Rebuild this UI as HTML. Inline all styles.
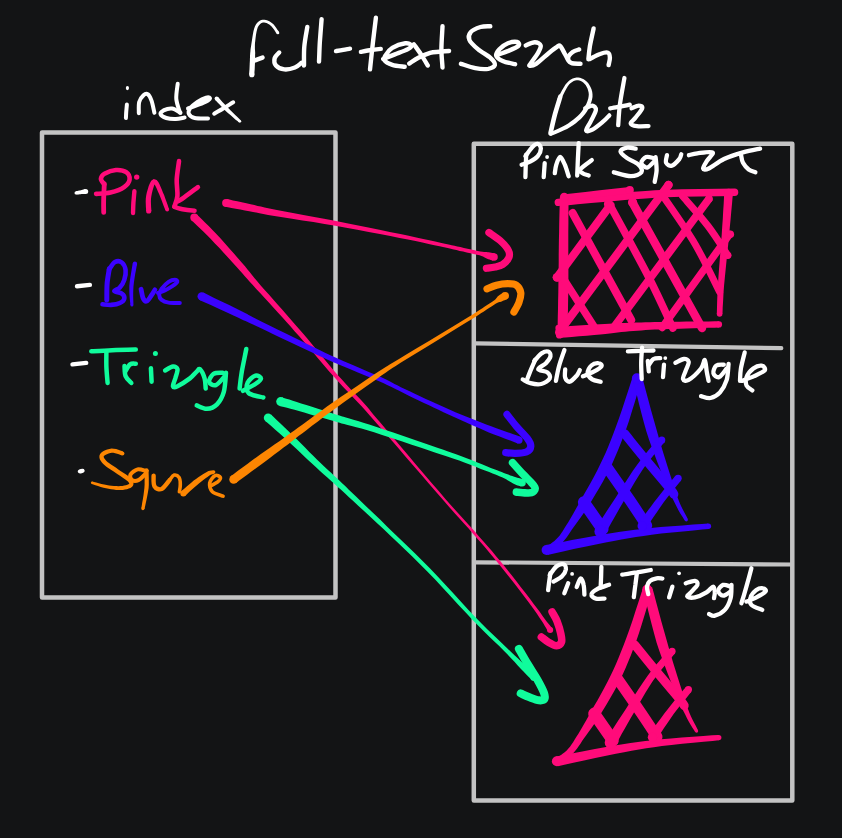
<!DOCTYPE html>
<html><head><meta charset="utf-8"><title>full-text search</title>
<style>
html,body{margin:0;padding:0;background:#131415;}
body{width:842px;height:838px;overflow:hidden;font-family:"Liberation Sans",sans-serif;}
svg{display:block}
svg path{fill:none;stroke-linecap:round;stroke-linejoin:round}
</style></head><body>
<svg width="842" height="838" viewBox="0 0 842 838">
<rect x="0" y="0" width="842" height="838" fill="#131415"/>
<path d="M42 132.4H335.5V597.5H42Z" stroke="#c3c3c3" stroke-width="4.5"/>
<path d="M473.8 143.7H792.3V800.4H473.8Z" stroke="#c3c3c3" stroke-width="4.5"/>
<path d="M475.8 343.3L781.3 348.2" stroke="#c3c3c3" stroke-width="4.2"/>
<path d="M475.8 562.3L792 564.5" stroke="#c3c3c3" stroke-width="4.2"/>
<path d="M225.3 206.8L227.9 207.3L231.5 208L235.7 208.8L240.3 209.6L244.9 210.5L249.3 211.3L253 212L256.2 212.6L259.5 213.3L263.3 214L268.1 214.9L274.4 215.9L282.5 217.2L292 218.7L302.4 220.4L313.4 222.1L324.5 223.9L335.3 225.7L346.1 227.7L357.3 229.8L368.7 231.9L379.8 234L390.3 236.1L399.6 237.9L407.9 239.6L415.5 241.1L422.4 242.6L428.7 243.9L434.4 245.2L439.6 246.3L444.1 247.3L447.7 248.1L450.8 248.8L453.7 249.5L456.5 250.1L459.6 250.9L463.1 251.6L466.7 252.4L470.3 253.2L473.8 254L476.9 254.7L479.6 255.3L481.5 256L483 256.6L484.2 257.2L485.1 257.7L486.1 258.3L487.1 258.8L488.3 259.2L489.5 259.5L490.6 259.9L491.6 260.2L492.5 260.5L493.1 260.7L494.9 253.3L494.3 253.2L493.4 253.1L492.4 252.9L491.2 252.7L490 252.4L488.9 252.2L487.8 252.2L486.7 252.1L485.6 252.1L484.2 251.9L482.6 251.8L480.4 251.5L477.8 250.9L474.6 250.2L471.2 249.5L467.5 248.7L463.9 247.9L460.4 247.1L457.3 246.5L454.5 245.8L451.7 245.2L448.6 244.5L444.9 243.7L440.4 242.7L435.2 241.5L429.4 240.3L423.2 238.9L416.3 237.4L408.7 235.8L400.4 234.1L391 232.2L380.6 230L369.6 227.7L358.2 225.4L346.9 223.2L336.1 221.1L325.4 219L314.3 216.9L303.4 214.9L292.9 213L283.5 211.2L275.6 209.7L269.4 208.4L264.6 207.4L260.9 206.6L257.6 205.9L254.4 205.1L250.7 204.3L246.4 203.3L241.8 202.3L237.3 201.3L233 200.4L229.5 199.6L226.9 199Z" style="fill:#ff0b7a;stroke:none"/>
<circle cx="226.1" cy="202.9" r="4" fill="#ff0b7a" stroke="none"/>
<circle cx="494" cy="257" r="3.8" fill="#ff0b7a" stroke="none"/>
<path d="M488.9 232.5C490.8 233.9 497 237.8 500.2 240.7C503.4 243.6 506.9 247.3 508.3 250.1C509.8 252.9 509.8 255.2 508.9 257.6C508 260 505 262.9 502.7 264.5C500.4 266.1 497.8 266.4 495.1 267C492.4 267.6 487.8 268.1 486.4 268.3" stroke="#ff0b7a" stroke-width="7.2"/>
<path d="M191.6 220.3L193.6 222.3L196.4 224.9L199.6 228L203.3 231.5L207.1 235.2L210.8 239.1L214.9 243.4L219.4 248.1L224.1 253.2L228.7 258.3L233 263L236.9 267.2L240 270.7L242.5 273.6L244.8 276.2L247.1 278.8L249.7 281.7L252.8 285.1L256.5 289.2L260.6 293.6L264.9 298.2L269.3 303.1L273.8 307.9L278.1 312.7L282.3 317.3L286.5 322L290.6 326.6L294.8 331.4L299.2 336.3L303.7 341.5L308.5 347.1L313.6 353.1L318.8 359.2L324.1 365.4L329.2 371.4L334.2 377L339.1 382.5L344.1 387.9L349.1 393L353.7 397.9L358 402.4L361.6 406.3L364.3 409.3L366.3 411.4L367.8 413.2L369.3 414.9L371.1 417.1L373.7 420.1L377 423.7L380.5 427.7L384.3 432.1L388.6 437L393.5 442.5L398.9 448.8L405.4 456.4L413 465.2L421.1 474.6L429.2 484.1L437 493L443.8 500.8L449.6 507.4L454.7 513.2L459.5 518.5L464 523.4L468.4 528.3L472.8 533.4L477.2 538.4L481.5 543.3L485.6 548.1L489.7 552.9L493.9 558L498.4 563.4L503.2 569.4L508.4 575.9L513.6 582.6L518.8 589.2L523.5 595.4L527.7 600.9L531.2 605.7L534.3 610.1L537.1 614.1L539.5 617.7L541.6 620.8L543.4 623.6L544.8 625.9L545.9 627.7L546.6 629.1L547.1 630.1L547.4 631L547.7 631.8L552.7 628.4L552.1 627.9L551.4 627.2L550.6 626.3L549.6 625.1L548.3 623.5L546.6 621.4L544.6 618.7L542.4 615.7L539.9 612.1L537 608.2L533.7 603.9L530.1 599.1L525.9 593.6L521.1 587.4L516 580.8L510.7 574.1L505.5 567.6L500.6 561.6L496.1 556.2L491.9 551.1L487.7 546.3L483.5 541.5L479.2 536.7L474.8 531.6L470.3 526.6L465.9 521.7L461.4 516.8L456.6 511.5L451.4 505.7L445.6 499.2L438.9 491.3L431.2 482.4L423.1 472.9L415 463.4L407.5 454.6L401.1 447L395.6 440.6L390.8 435L386.6 430.1L382.8 425.6L379.4 421.6L376.3 417.9L373.7 414.9L371.9 412.7L370.5 410.9L369 409.1L367.1 406.8L364.4 403.7L360.8 399.8L356.5 395.3L351.9 390.4L347 385.2L342.1 379.8L337.2 374.4L332.3 368.7L327.3 362.7L322.2 356.4L317 350.2L312 344.2L307.3 338.5L302.8 333.2L298.4 328.2L294.2 323.4L290.1 318.7L286 314L281.9 309.3L277.6 304.5L273.2 299.5L268.9 294.6L264.7 289.9L260.7 285.4L257.2 281.3L254.2 277.8L251.8 274.8L249.7 272.1L247.5 269.4L245 266.3L241.9 262.8L238.2 258.4L233.9 253.6L229.4 248.4L224.8 243.2L220.4 238.3L216.4 233.9L212.5 229.9L208.7 226L205 222.4L201.8 219.3L199 216.6L197 214.7Z" style="fill:#ff0b7a;stroke:none"/>
<circle cx="194.3" cy="217.5" r="4" fill="#ff0b7a" stroke="none"/>
<circle cx="550.2" cy="630.1" r="3" fill="#ff0b7a" stroke="none"/>
<path d="M552.1 611.9C552.9 613.5 555.7 617.6 557.1 621.3C558.5 624.9 560.1 630.3 560.8 633.8C561.5 637.2 562.2 640 561.5 642C560.8 644 558.6 645.6 556.5 645.7C554.4 645.8 551.4 644.1 548.9 642.6C546.4 641.1 542.6 637.9 541.4 637" stroke="#ff0b7a" stroke-width="7.6"/>
<path d="M199.9 300.2L204.4 302.2L210.8 305.1L218.2 308.5L225.9 312L232.9 315.3L238.4 317.8L241.9 319.4L244 320.4L245.5 321L247.1 321.8L249.6 322.9L253.6 324.8L259.5 327.6L266.8 331.1L274.9 335L283.3 339L291.4 342.8L298.8 346.3L305.2 349.3L311.1 352L316.7 354.7L322.3 357.3L328.2 359.9L334.6 362.7L341.8 365.8L349.7 369.1L357.9 372.4L365.8 375.7L373 378.7L379.1 381.3L383.7 383.3L387.1 384.9L389.9 386.3L392.5 387.6L395.4 389.1L399.1 390.8L403.5 393L408.3 395.4L413.4 397.9L418.7 400.4L423.9 402.9L429 405.3L434 407.7L439 410L444 412.4L449 414.7L454 417L459 419.2L464 421.5L469 423.7L474 426L478.9 428.1L483.9 430.3L488.8 432.4L494 434.4L499.6 436.6L505.2 438.7L510.3 440.6L514.6 442.3L517.8 443.5L520.2 436.7L517.1 435.6L512.7 434.1L507.6 432.2L502 430.2L496.4 428.2L491.2 426.2L486.2 424.4L481.2 422.5L476.2 420.6L471.1 418.6L466 416.6L461 414.6L456 412.5L451 410.3L446 408.1L441 405.8L436 403.5L431 401.3L425.8 398.9L420.6 396.4L415.3 394L410.2 391.6L405.3 389.3L400.9 387.2L397.3 385.3L394.5 383.9L391.9 382.5L389.1 381L385.6 379.3L380.9 377.1L374.8 374.4L367.6 371.4L359.7 368L351.6 364.6L343.8 361.2L336.6 358.1L330.3 355.2L324.5 352.5L319 349.8L313.4 347.1L307.6 344.2L301.2 341.1L294 337.6L285.9 333.6L277.5 329.5L269.5 325.5L262.3 321.9L256.4 319L252.5 317L250.2 315.7L248.6 314.9L247.2 314.1L245.1 313L241.6 311.2L236.1 308.5L229.2 305.1L221.6 301.5L214.2 297.9L207.9 294.8L203.5 292.6Z" style="fill:#3b02ff;stroke:none"/>
<circle cx="201.7" cy="296.4" r="4.2" fill="#3b02ff" stroke="none"/>
<circle cx="519" cy="440.1" r="3.6" fill="#3b02ff" stroke="none"/>
<path d="M507 414.4C508.6 416.4 512.9 422.2 516.4 426.3C519.9 430.4 525.3 435.5 527.7 438.9C530.1 442.2 531 444.2 530.8 446.4C530.6 448.6 529 450.9 526.4 452C523.8 453.1 518.6 453.2 515.1 453.3C511.7 453.4 507.3 452.7 505.7 452.6" stroke="#3b02ff" stroke-width="7.2"/>
<path d="M279.5 405.9L281.4 406.4L283.9 407L287 407.8L290.5 408.7L294.5 409.8L298.9 411L304.2 412.5L310.5 414.4L317.3 416.4L324 418.3L330 420L334.6 421.3L337.4 422.2L338.9 422.6L339.7 422.8L340.3 423L341.6 423.4L344.1 424.1L347.6 425L351.7 426L356.3 427.2L361.5 428.6L367.4 430.3L374.1 432.3L382.1 434.9L391.5 437.9L401.6 441.3L411.7 444.7L421.1 447.8L429.1 450.5L435.6 452.7L441 454.4L445.7 456L450.1 457.4L454.5 458.9L459.2 460.6L464.3 462.5L469.7 464.5L475.1 466.6L480.2 468.7L485 470.5L489.2 472.1L492.6 473.5L495.4 474.6L497.8 475.6L500 476.4L502 477.3L504.1 478.2L506.1 479.3L508 480.4L509.8 481.5L511.5 482.5L513.1 483.5L514.7 484.3L516.2 484.9L517.6 485.4L518.8 485.8L519.8 486L520.6 486.2L521.1 486.4L522.9 479L522.3 478.9L521.5 478.7L520.6 478.6L519.6 478.3L518.5 478.1L517.3 477.7L515.9 477.3L514.2 476.7L512.3 476.1L510.3 475.4L508.2 474.6L505.9 473.8L503.8 473L501.7 472.1L499.5 471.3L497.1 470.3L494.3 469.2L490.8 467.9L486.7 466.2L482 464.3L476.8 462.2L471.4 460.1L466 458L460.8 456L456.1 454.3L451.7 452.7L447.4 451.2L442.7 449.5L437.3 447.7L430.9 445.5L422.9 442.7L413.5 439.5L403.4 436L393.3 432.5L383.9 429.4L375.9 426.7L369.2 424.5L363.3 422.7L358 421.1L353.4 419.8L349.4 418.6L345.9 417.5L343.5 416.8L342.3 416.4L341.6 416.2L340.9 416L339.5 415.5L336.6 414.7L332 413.2L326.1 411.3L319.5 409.2L312.7 407L306.4 405L301.1 403.4L296.8 402L292.8 400.7L289.3 399.6L286.3 398.7L283.8 397.9L281.9 397.3Z" style="fill:#10fc9c;stroke:none"/>
<circle cx="280.7" cy="401.6" r="4.5" fill="#10fc9c" stroke="none"/>
<circle cx="522" cy="482.7" r="3.8" fill="#10fc9c" stroke="none"/>
<path d="M512.6 462.7C514.3 464.6 519.6 470.6 522.7 473.9C525.8 477.2 529.3 480.3 531.4 482.7C533.5 485.1 535.2 486.7 535.2 488.4C535.2 490.1 533.5 492 531.4 492.7C529.3 493.4 525.2 492.8 522.7 492.7C520.2 492.6 517.5 492.2 516.4 492.1" stroke="#10fc9c" stroke-width="7.6"/>
<path d="M265.2 420.9L267.7 423L271.2 426.1L275.3 429.7L279.7 433.6L284.1 437.5L288.3 441.3L292.2 445L296.3 448.8L300.5 452.8L304.6 456.7L308.6 460.5L312.5 464.1L316.3 467.6L320 470.9L323.6 474.2L327.1 477.3L330.4 480.2L333.5 483L336.2 485.4L338.3 487.4L340.2 489.1L342.4 491.1L345.1 493.6L348.7 497L353.2 501.1L358.5 505.9L364.3 511.3L370.5 517L376.9 522.9L383.5 529.1L390.2 535.5L397.4 542.2L404.7 549.3L412.3 556.5L419.8 563.9L427.3 571.4L434.9 579.3L442.7 587.7L450.6 596.2L458.3 604.7L465.7 612.6L472.4 619.7L478.6 626L484.3 631.7L489.6 636.9L494.6 641.7L499.2 646.1L503.6 650.4L507.6 654.6L511.3 658.5L514.7 662.1L517.7 665.4L520.5 668.4L523 671.1L525.1 673.3L527 675.2L528.5 676.8L529.8 678.1L530.8 679.2L531.6 680.1L536.2 675.3L535.3 674.6L534.2 673.6L532.9 672.4L531.2 670.9L529.3 669.1L527 666.9L524.4 664.5L521.4 661.7L518.1 658.6L514.5 655.2L510.6 651.6L506.4 647.6L502 643.3L497.3 638.8L492.3 634.1L487 628.9L481.3 623.3L475.2 617.1L468.5 610L461.2 602.1L453.5 593.6L445.6 585L437.7 576.6L430.1 568.6L422.6 561L415.1 553.6L407.6 546.3L400.3 539.2L393.2 532.4L386.5 525.9L380.1 519.6L373.7 513.5L367.6 507.7L361.9 502.3L356.8 497.3L352.3 493L348.8 489.7L346.2 487.1L344.1 485.1L342.1 483.2L340.1 481.2L337.5 478.8L334.4 475.9L331.1 472.8L327.7 469.7L324.2 466.4L320.6 463L316.9 459.5L313.2 455.8L309.3 451.9L305.3 447.8L301.3 443.8L297.3 439.8L293.3 435.9L289.3 432L284.9 427.8L280.7 423.7L276.7 420L273.4 416.8L271 414.5Z" style="fill:#10fc9c;stroke:none"/>
<circle cx="268.1" cy="417.7" r="4.3" fill="#10fc9c" stroke="none"/>
<circle cx="533.9" cy="677.7" r="3.3" fill="#10fc9c" stroke="none"/>
<path d="M518.9 648.9C520.4 651.4 524.5 658.7 527.6 663.9C530.7 669.1 535 675.4 537.7 680.2C540.4 685 542.8 689.6 543.9 692.7C545 695.8 545.3 697.7 544.5 699C543.7 700.3 541.5 700.6 538.9 700.3C536.3 700 531.9 698.2 528.9 697.1C525.9 696 522.1 694 520.7 693.4" stroke="#10fc9c" stroke-width="8"/>
<path d="M236.2 482.9L238.9 480.8L242.7 478L247.2 474.7L252.1 471.1L257 467.5L261.5 464.2L265.9 460.9L270.5 457.5L275 454.1L279.5 450.7L283.6 447.6L287.2 444.9L290.1 442.7L292.3 441L294.1 439.5L296 438L298.5 436.1L302.1 433.4L306.7 429.9L312 425.8L317.9 421.4L324.2 416.6L330.8 411.8L337.4 407L344.5 401.8L352.3 396.2L360.4 390.5L368.2 384.9L375.4 379.9L381.4 375.6L385.6 372.7L388.3 370.8L390.2 369.4L392.4 368L395.7 365.9L401 362.5L409.2 357.5L419.5 351.2L431 344.2L442.4 337.2L452.8 330.8L460.9 325.8L466.6 322.3L470.8 319.8L473.8 317.9L476.1 316.4L478.4 314.9L480.9 313.3L483.9 311.4L486.7 309.6L489.4 307.8L491.9 306.2L494.1 304.7L496 303.5L497.5 302.8L498.7 302.3L499.5 302L500.2 301.9L500.9 301.7L501.7 301.5L502.6 301.1L503.6 300.6L504.6 300.2L505.6 299.7L506.4 299.4L507 299.1L503.4 292.5L502.9 292.8L502.1 293.3L501.2 293.9L500.2 294.6L499.2 295.2L498.3 295.9L497.6 296.6L497.1 297.2L496.7 297.8L496.1 298.5L495.3 299.4L494 300.5L492.2 301.7L489.9 303.2L487.5 304.8L484.8 306.6L482 308.5L479.1 310.3L476.5 312L474.2 313.4L471.9 314.9L468.9 316.7L464.8 319.3L459.1 322.8L450.9 327.7L440.5 334L429 340.9L417.5 347.8L407.1 354.1L399 359.1L393.5 362.3L390.1 364.3L387.8 365.7L385.7 367L383 368.7L378.6 371.6L372.5 375.6L365.2 380.5L357.2 385.9L349 391.4L341 396.8L333.8 401.8L327 406.6L320.4 411.4L314 416.1L308 420.5L302.6 424.4L297.9 427.8L294.3 430.4L291.7 432.3L289.7 433.8L287.8 435.1L285.7 436.7L282.8 438.7L279 441.4L274.8 444.3L270.3 447.5L265.6 450.8L260.9 454.1L256.5 457.2L251.9 460.6L247 464.2L242.1 467.8L237.6 471.1L233.8 473.9L231 475.9Z" style="fill:#fd8602;stroke:none"/>
<circle cx="233.6" cy="479.4" r="4.3" fill="#fd8602" stroke="none"/>
<circle cx="505.2" cy="295.8" r="3.8" fill="#fd8602" stroke="none"/>
<path d="M487 288.9C488.6 288.3 492.9 286.1 496.4 285.2C499.8 284.3 504.4 283.7 507.7 283.7C511 283.7 514.2 283.7 516.4 285.2C518.6 286.7 520.4 289.8 520.8 292.7C521.2 295.6 520 299.5 518.9 302.7C517.8 305.9 514.7 310.5 513.9 312.1" stroke="#fd8602" stroke-width="7.2"/>
<path d="M76.5 194.6L77 194.5L77.8 194.5L78.7 194.4L79.7 194.3L80.6 194.2L81.5 194.1L82.4 194.1L83.3 194L84.1 193.9L84.9 193.9L85.6 193.9L86.1 193.9L85.3 188.9L84.8 189.1L84.2 189.3L83.4 189.5L82.5 189.7L81.7 190L80.9 190.2L80 190.4L79.1 190.5L78.2 190.7L77.3 190.9L76.5 191.1L76 191.2Z" style="fill:#ffffff;stroke:none"/>
<circle cx="76.2" cy="192.9" r="1.7" fill="#ffffff" stroke="none"/>
<circle cx="85.7" cy="191.4" r="2.5" fill="#ffffff" stroke="none"/>
<path d="M104.3 183.7C104.2 186.2 103.8 193.9 103.7 198.7C103.5 203.5 103.7 210.1 103.7 212.4" stroke="#ff0b7a" stroke-width="4.8"/>
<path d="M96.1 193.9C98.5 193.7 105.8 193.7 110.5 192.6C115.2 191.4 121 189.3 124.1 187.1C127.3 184.9 129.3 182.1 129.6 179.6C129.9 177.1 128.5 173.7 126.2 172.1C123.9 170.5 119.5 169.8 115.9 170C112.4 170.3 107.5 172 105 173.4C102.5 174.9 101 177.1 100.9 178.9C100.8 180.7 103.8 183.5 104.3 184.4" stroke="#ff0b7a" stroke-width="4.6"/>
<circle cx="136.7" cy="177.1" r="2.7" fill="#ff0b7a" stroke="none"/>
<path d="M134.4 191.2C134.2 193.1 133.7 199.2 133.4 202.8C133.2 206.4 133.1 211.3 133 213" stroke="#ff0b7a" stroke-width="4.4"/>
<path d="M151.3 210.9L151.3 209.2L151.1 206.9L151 204.3L150.9 201.5L151 198.8L151.3 196.4L151.8 193.8L152.5 190.7L153.4 187.7L154.3 185.1L155 183.5L154.7 183.5L153.8 183.4L154.5 184.3L155.6 186.2L156.8 188.8L157.9 191.5L159.1 194.1L160.2 196.7L161.4 199.7L162.6 202.9L163.7 205.9L164.7 208.4L165.4 210.3L169 209L168.3 207.1L167.5 204.6L166.4 201.5L165.2 198.3L164.1 195.1L162.9 192.4L161.9 189.8L160.7 187.1L159.5 184.3L158.3 181.9L156.7 179.9L153.7 179L151.2 180.7L149.9 183.2L148.7 186.1L147.7 189.4L146.8 192.6L146.2 195.6L145.8 198.4L145.7 201.5L145.8 204.5L145.9 207.2L146.1 209.5L146.1 211.1Z" style="fill:#ff0b7a;stroke:none"/>
<circle cx="148.7" cy="211" r="2.6" fill="#ff0b7a" stroke="none"/>
<circle cx="167.2" cy="209.6" r="1.9" fill="#ff0b7a" stroke="none"/>
<path d="M179 161.1C178.7 164.2 177 173.8 176.7 179.6C176.5 185.4 177.8 191.5 177.4 196C177 200.5 174.9 204.8 174.4 206.6" stroke="#ff0b7a" stroke-width="4.6"/>
<path d="M197.9 187.1C195.6 188.8 187.5 195 184.2 197.3C180.9 199.7 179.1 200.5 178.1 201.2" stroke="#ff0b7a" stroke-width="4.6"/>
<path d="M174.4 206.9C176 207.4 180.9 209 184.2 209.6C187.6 210.3 192.8 210.5 194.5 210.7" stroke="#ff0b7a" stroke-width="4.6"/>
<path d="M77 286.2L89.9 284.9" stroke="#ffffff" stroke-width="4.4"/>
<path d="M109.3 268.7C109 271.2 107.5 278.5 107.1 283.7C106.7 288.9 106.9 297.2 106.8 299.9" stroke="#3b02ff" stroke-width="5"/>
<path d="M109 269.7C110 268.4 112.8 263.3 115 262.1C117.1 260.9 120 261.2 121.8 262.5C123.6 263.8 125.1 267.1 125.6 270C126 272.9 125.2 277 124.3 279.9C123.4 282.9 121.6 285.6 119.9 287.4C118.3 289.3 114 290.1 114.3 291.2C114.6 292.2 120.1 292.4 121.8 293.7C123.5 294.9 124.6 297.1 124.3 298.6C124 300.2 122.1 302 119.9 303C117.8 304.1 114.1 304.7 111.2 304.9C108.3 305.1 103.9 304.4 102.5 304.3" stroke="#3b02ff" stroke-width="4.6"/>
<path d="M132.7 263.4L132.3 265.8L131.7 269.3L131 273.4L130.3 277.8L129.7 282.1L129.3 286L129.3 289.7L129.4 293.4L129.6 297L129.9 300.3L130.2 303L130.4 305L133.4 304.8L133.4 302.8L133.3 300.1L133.2 296.8L133.2 293.3L133.3 289.8L133.5 286.3L133.9 282.7L134.5 278.5L135.2 274.1L136 270.1L136.6 266.6L137.1 264.1Z" style="fill:#3b02ff;stroke:none"/>
<circle cx="134.9" cy="263.7" r="2.2" fill="#3b02ff" stroke="none"/>
<circle cx="131.9" cy="304.9" r="1.5" fill="#3b02ff" stroke="none"/>
<path d="M141.1 289.3C141.5 290.7 142.1 296 143 298C143.9 300 145.3 301.7 146.8 301.1C148.2 300.6 150.4 296.8 151.7 294.9C153.1 293 154.3 290.7 154.9 289.9" stroke="#3b02ff" stroke-width="4.8"/>
<path d="M158 293C159.1 292.6 162.4 291.7 164.8 290.5C167.2 289.4 170.2 287.6 172.3 286.2C174.4 284.7 176.9 282.9 177.3 281.8C177.7 280.7 176.3 279.7 174.8 279.7C173.4 279.7 170.8 280.3 168.6 281.8C166.4 283.3 163.3 286.5 161.7 288.7C160.2 290.9 159.2 293 159.2 294.9C159.2 296.8 160.2 298.6 161.7 299.9C163.3 301.2 165.6 302.1 168.6 302.6C171.6 303.2 177.9 302.9 179.8 303" stroke="#3b02ff" stroke-width="4"/>
<path d="M72.5 364.4L86.2 362.9" stroke="#ffffff" stroke-width="4.4"/>
<path d="M91.3 351.3C94.8 351.1 104.7 350.5 112.1 350.2C119.5 349.9 131.8 349.6 135.8 349.5" stroke="#10fc9c" stroke-width="4.5"/>
<path d="M106.4 351.3C106.4 353.9 106.2 361.8 106.4 367.1C106.6 372.3 107.4 380.2 107.6 382.9" stroke="#10fc9c" stroke-width="4.5"/>
<path d="M124.5 365.9C124.7 367.6 124.5 373.3 125.6 376.1C126.7 378.9 130.3 381.7 131.3 382.9" stroke="#10fc9c" stroke-width="4.5"/>
<path d="M125.2 371.6C126 370.4 128.4 365.7 130.1 364.4C131.9 363.1 134.8 363.8 135.8 363.7" stroke="#10fc9c" stroke-width="4.5"/>
<circle cx="155.4" cy="353.5" r="2.5" fill="#10fc9c" stroke="none"/>
<path d="M150.9 368.2L151.6 381.7" stroke="#10fc9c" stroke-width="4.5"/>
<path d="M165.1 370.5C166.4 369.8 170.9 366.8 173 366.6C175.1 366.4 177.1 367.4 177.5 369.3C177.9 371.3 176 375.5 175.3 378.4C174.5 381.2 172.6 384.9 173 386.3C173.4 387.6 174.7 387.6 177.5 386.3C180.3 384.9 186.7 380.8 189.9 378.4C193.1 375.9 195 373.1 196.7 371.6C198.4 370.1 198.8 368.2 200.1 369.3C201.4 370.5 203.7 375.2 204.6 378.4C205.5 381.6 205.5 386.8 205.7 388.5" stroke="#10fc9c" stroke-width="4.5"/>
<path d="M222.6 372.7C221.1 372.9 215.9 372.3 213.6 373.8C211.4 375.4 208.7 379.9 209.1 381.7C209.5 383.6 213.2 386.1 215.9 385.1C218.5 384.2 223.4 377.6 224.9 376.1" stroke="#10fc9c" stroke-width="4.5"/>
<path d="M226 372.7C225.7 375.9 225.3 386.6 223.8 391.9C222.3 397.2 219.8 401.5 217 404.3C214.2 407.1 210.2 408.6 206.9 408.8C203.5 409 198.4 406 196.7 405.4" stroke="#10fc9c" stroke-width="4.5"/>
<path d="M246.3 349C245.6 352.8 243 365 241.8 371.6C240.7 378.2 239.9 385.7 239.6 388.5" stroke="#10fc9c" stroke-width="4.5"/>
<path d="M243 390.8C245 389.6 252.4 386.1 255.4 384C258.4 381.9 261 379.8 261 378.4C261 377 257.6 374.9 255.4 375.7C253.1 376.4 248.6 380 247.5 382.9C246.3 385.8 246 390.6 248.6 393C251.2 395.5 260.8 396.8 263.3 397.5" stroke="#10fc9c" stroke-width="4.5"/>
<ellipse cx="81.2" cy="471.2" rx="3.5" ry="2.2" style="fill:#ffffff" transform="rotate(-15 81.2 471.2)"/>
<path d="M123 451.5L121.9 451.1L120.3 450.5L118.3 449.8L116.1 449.1L113.8 448.7L111.6 448.6L109.4 448.9L107.2 449.5L105.1 450.3L103.1 451.3L101.4 452.5L100.1 453.9L99.4 455.8L99.4 457.6L99.8 459.3L100.7 460.8L101.7 462.3L103 463.8L104.7 465.3L106.7 466.9L109 468.4L111.3 470L113.7 471.5L115.8 473L118 474.5L120.4 476.1L122.8 477.7L125 479.2L126.7 480.5L128 481.6L128.7 482.5L129.1 483.1L129.3 483.5L129.3 483.5L129.2 483.6L129.1 483.8L128.5 484.2L127.4 484.7L125.9 485.2L124.2 485.6L122.4 485.9L120.5 486.1L118.5 486.2L116.3 486.1L114 486L111.5 485.7L109.1 485.4L106.7 485L104.2 484.6L101.5 483.9L98.8 483.2L96.2 482.6L94 482L92.5 481.6L91.8 483.9L93.3 484.4L95.4 485.2L98 486L100.7 486.9L103.5 487.7L106 488.3L108.5 488.8L111 489.3L113.6 489.6L116.1 489.9L118.5 490.1L120.7 490.1L122.9 489.9L125 489.6L127 489.2L128.8 488.6L130.5 487.9L131.8 487L132.8 485.9L133.4 484.4L133.5 482.8L133.1 481.3L132.3 479.9L131.1 478.5L129.5 477.1L127.5 475.6L125.3 474L122.9 472.4L120.5 470.9L118.3 469.4L116.1 467.8L113.8 466.3L111.4 464.8L109.3 463.3L107.5 462L106.2 460.7L105.2 459.6L104.4 458.5L103.9 457.6L103.7 456.9L103.7 456.6L103.8 456.3L104.2 455.8L105.3 455.1L106.9 454.3L108.6 453.6L110.4 453.1L111.9 452.8L113.3 452.8L115.1 453.2L117.1 453.7L118.9 454.3L120.6 454.9L121.8 455.3Z" style="fill:#fd8602;stroke:none"/>
<circle cx="122.4" cy="453.4" r="2" fill="#fd8602" stroke="none"/>
<circle cx="92.1" cy="482.8" r="1.2" fill="#fd8602" stroke="none"/>
<path d="M146.5 471.2C145 470.9 140.2 468.8 137.6 469.4C134.9 470 131.3 473 130.4 474.7C129.5 476.5 130.9 479.2 132.2 480.1C133.5 481 136.2 481.1 138.4 480.1C140.7 479 144.4 474.9 145.6 473.8" stroke="#fd8602" stroke-width="4"/>
<path d="M144.4 470.3L144.4 472.3L144.5 474.9L144.6 478L144.6 481.3L144.6 484.7L144.4 487.9L144 491.3L143.5 495.2L142.9 499.1L142.2 502.8L141.7 506L141.3 508.3L144.5 508.9L145 506.7L145.7 503.5L146.5 499.8L147.3 495.8L148 491.9L148.6 488.3L148.8 484.9L148.8 481.3L148.8 477.9L148.7 474.7L148.6 472.1L148.6 470.2Z" style="fill:#fd8602;stroke:none"/>
<circle cx="146.5" cy="470.3" r="2.1" fill="#fd8602" stroke="none"/>
<circle cx="142.9" cy="508.6" r="1.6" fill="#fd8602" stroke="none"/>
<path d="M153.6 475.6C153.7 477.4 153.1 484.1 154.5 486.3C155.8 488.5 159.1 490 161.6 489C164.1 488 168.3 481.6 169.6 480.1" stroke="#fd8602" stroke-width="4.4"/>
<path d="M170.2 479.2C170.8 478.5 172.6 475.4 174.1 475.1C175.6 474.8 178 475.8 179.1 477.4C180.1 479 180.3 482.2 180.3 484.5C180.4 486.9 179.6 490.5 179.4 491.7" stroke="#fd8602" stroke-width="3.6"/>
<path d="M185.4 495.7L186.6 494.5L188.4 492.8L190.5 490.8L192.8 488.7L195.1 486.7L197.2 484.9L199.2 483.2L201.4 481.5L203.6 479.8L205.6 478.2L207.5 476.9L209.1 475.8L210.2 475.1L211.2 474.6L212 474.4L212.7 474.2L213.4 474L214 473.8L213.3 470.4L212.8 470.4L212.1 470.4L211.1 470.4L209.9 470.7L208.4 471.1L206.8 471.9L205 472.9L202.9 474.2L200.6 475.7L198.3 477.3L196 479L193.7 480.6L191.5 482.4L189.1 484.5L186.7 486.5L184.5 488.5L182.7 490.1L181.3 491.2Z" style="fill:#fd8602;stroke:none"/>
<circle cx="183.3" cy="493.4" r="3" fill="#fd8602" stroke="none"/>
<circle cx="213.6" cy="472.1" r="1.8" fill="#fd8602" stroke="none"/>
<path d="M209.7 486.3C211 485.6 215.9 483.4 217.7 481.9C219.5 480.4 220.8 478.5 220.4 477.4C220 476.4 216.8 474.7 215.1 475.6C213.3 476.5 210.2 480.1 209.7 482.8C209.3 485.4 210.2 489.4 212.4 491.7C214.6 493.9 221.3 495.4 223.1 496.1" stroke="#fd8602" stroke-width="3.6"/>
<path d="M279 32.1L278.4 31.1L277.4 29.7L276.3 28L275 26.3L273.7 24.6L272.2 23.3L270.8 22.2L269.3 21.3L267.6 20.5L266 20L264.3 19.7L262.7 19.7L261.1 20.1L259.7 20.8L258.3 21.8L257 23L255.9 24.6L254.9 26.4L254.1 28.7L253.4 31.4L252.9 34.3L252.4 37.2L252 40L251.6 42.4L251.3 44.5L251 46.4L250.7 48.2L250.5 49.8L250.4 51.4L250.2 53L250.1 54.6L250 56.1L250 57.5L249.9 59L249.9 60.5L249.8 62.1L249.7 64.1L249.6 66.5L249.5 68.9L249.3 71.2L249.2 73.1L249.2 74.5L254.4 74.8L254.4 73.4L254.5 71.5L254.7 69.2L254.8 66.7L254.9 64.4L255 62.4L255.1 60.6L255.1 59.1L255.1 57.6L255.1 56.2L255.1 54.8L255.2 53.2L255.1 51.6L255 50L254.9 48.4L254.9 46.7L254.9 44.9L255 42.9L255.3 40.5L255.6 37.7L256 34.8L256.5 32L257.1 29.5L257.7 27.6L258.5 26.1L259.3 24.9L260.2 24L261.1 23.3L262.1 22.8L263.1 22.5L264.1 22.5L265.3 22.7L266.6 23.1L267.9 23.8L269.3 24.6L270.5 25.4L271.6 26.5L272.8 28L274 29.6L275.1 31.2L276 32.7L276.7 33.7Z" style="fill:#ffffff;stroke:none"/>
<circle cx="277.9" cy="32.9" r="1.4" fill="#ffffff" stroke="none"/>
<circle cx="251.8" cy="74.7" r="2.6" fill="#ffffff" stroke="none"/>
<path d="M252.4 61.2C253.3 60.9 256 60 257.6 59.4C259.3 58.8 261.7 57.9 262.5 57.6" stroke="#ffffff" stroke-width="4.4"/>
<path d="M279.2 52.5C278.4 53.4 275.2 56.2 274.6 58.3C274.1 60.5 274.3 63.7 275.9 65.5C277.6 67.4 281.3 69.1 284.4 69.4C287.6 69.8 292 68.6 294.9 67.5C297.7 66.4 300.3 63.7 301.4 62.9" stroke="#ffffff" stroke-width="4.4"/>
<path d="M307.3 27C306.8 30.2 304.8 40.2 304.3 46.6C303.7 53 304.1 62.4 304 65.5" stroke="#ffffff" stroke-width="4.4"/>
<path d="M321.6 19.1C321.3 23.1 320.3 35.6 319.8 42.7C319.4 49.7 319.2 58.4 319 61.6" stroke="#ffffff" stroke-width="4.4"/>
<path d="M336 51.1C337.2 50.9 340.9 50.3 343.2 49.8C345.5 49.4 348.9 48.9 350 48.7" stroke="#ffffff" stroke-width="4.4"/>
<path d="M375.9 17.8C375.4 22 373.9 34.1 372.9 42.7C371.9 51.3 370.5 65 370 69.4" stroke="#ffffff" stroke-width="4.4"/>
<path d="M360.9 51.8C362.6 51.5 368 50.5 371.4 50C374.7 49.5 379.2 49.1 380.8 48.9" stroke="#ffffff" stroke-width="4.4"/>
<path d="M383.1 59C385.1 58.2 390.7 56 394.9 54.4C399 52.8 405.2 50.7 407.9 49.2C410.7 47.7 411.6 46.3 411.2 45.3C410.8 44.3 408.5 42.9 405.3 43.3C402.2 43.7 395.5 45.9 392.3 47.9C389 49.8 387 53 385.7 55.1C384.4 57.1 383.3 58.7 384.4 60.3C385.5 61.9 388.9 63.8 392.3 64.9C395.6 66 402.6 66.5 404.7 66.8" stroke="#ffffff" stroke-width="4.4"/>
<path d="M413.8 44.2C415 45.9 418.7 50.9 421 54.4C423.3 58 426.7 63.7 427.8 65.5" stroke="#ffffff" stroke-width="4.4"/>
<path d="M409.2 63.6C410.8 62.6 414.9 59.5 418.4 57.7C421.9 55.9 426.7 53.8 430.1 52.8C433.6 51.9 436.1 52.1 439.3 51.8C442.4 51.5 447.4 51.1 449.1 51" stroke="#ffffff" stroke-width="4.4"/>
<path d="M442.5 26.3C442.4 30.1 441.4 42.3 441.4 49.2C441.4 56 442.4 64.4 442.5 67.5" stroke="#ffffff" stroke-width="4.4"/>
<path d="M490.3 26.3C488.7 26.4 483.8 26 480.5 27C477.2 28 472.5 30 470.7 32.2C468.8 34.4 468.2 37.2 469.4 40C470.6 42.9 474.3 46.1 477.9 49.2C481.5 52.2 488.1 55.7 490.9 58.3C493.8 60.9 495.3 63.1 494.9 64.9C494.4 66.6 491.6 68.2 488.3 68.8C485.1 69.3 479.8 69 475.3 68.1C470.7 67.3 463.3 64.5 460.9 63.8" stroke="#ffffff" stroke-width="4.4"/>
<path d="M496.8 55.1C498.7 54.4 504.3 52.7 507.9 51.1C511.5 49.6 516.9 47.4 518.4 45.9C519.9 44.4 518.8 42.4 517.1 42C515.3 41.6 510.9 42.1 507.9 43.3C505 44.5 501.4 47.1 499.4 49.2C497.5 51.3 495.6 53.8 496.2 55.7C496.7 57.7 499.5 59.5 502.7 60.9C505.9 62.4 513 63.7 515.1 64.2" stroke="#ffffff" stroke-width="4.4"/>
<path d="M525.7 45.5C527.2 44.9 532.3 42.2 534.8 42.2C537.3 42.2 540.2 43.7 540.7 45.5C541.2 47.2 539.7 49.7 538.1 52.7C536.5 55.6 532.3 60.9 530.9 63.1C529.5 65.3 528.7 65.6 529.6 65.7C530.5 65.8 532.9 65.9 536.1 63.8C539.4 61.6 545.7 55.5 549.2 52.7C552.7 49.8 555.2 47.9 557 46.8C558.9 45.7 559 44.9 560.3 46.1C561.6 47.3 563.6 51.7 564.9 54C566.1 56.2 567.3 58.5 567.7 59.5" stroke="#ffffff" stroke-width="4.4"/>
<path d="M579.2 49.4C578.1 49.8 574.6 50.6 572.7 52C570.9 53.4 568.3 56 568.1 57.9C567.9 59.7 569.3 62.1 571.4 63.1C573.5 64.1 579 63.7 580.5 63.8" stroke="#ffffff" stroke-width="4.4"/>
<path d="M593.6 28.5C593 31.4 590.8 41 589.9 46.1C589.1 51.2 588.6 57 588.4 59.2" stroke="#ffffff" stroke-width="4.4"/>
<path d="M589.9 58.9C591.6 58.1 597.1 55 600.1 54C603.1 52.9 606.3 52 608 52.7C609.6 53.3 609.8 55.8 609.9 57.9C610 60 608.8 63.9 608.6 65.1" stroke="#ffffff" stroke-width="4.4"/>
<ellipse cx="127.4" cy="88.1" rx="1.6" ry="2.1" style="fill:#ffffff"/>
<path d="M126.9 104.5C126.8 105.6 126.5 108.8 126.3 111C126.1 113.2 126 116.8 125.9 118" stroke="#ffffff" stroke-width="4"/>
<path d="M138.8 113.2C138.9 111.3 138.4 104.9 139.2 101.9C140 98.9 142.1 96.5 143.5 95.2C144.9 93.9 146.5 93.3 147.8 94.3C149.2 95.2 150.5 97.8 151.6 100.9C152.7 104 153.9 110.8 154.4 112.8" stroke="#ffffff" stroke-width="4"/>
<path d="M177.7 83.8C177.5 86.3 175.9 94.2 176.3 99C176.7 103.8 179.4 110.3 180 112.6" stroke="#ffffff" stroke-width="4"/>
<path d="M180.5 112.8C179.1 112.1 174.8 108.9 172 108.5C169.2 108.1 165.4 109.5 163.5 110.4C161.6 111.4 160.1 112.9 160.6 114.2C161.1 115.5 163.8 117.2 166.3 118C168.8 118.8 172.8 119.1 175.8 119C178.9 118.9 183.1 117.8 184.6 117.6" stroke="#ffffff" stroke-width="4"/>
<path d="M188 108.5C189.8 107.9 195.2 106 198.5 104.7C201.8 103.4 206.1 101.5 208 100.4C209.9 99.3 210.2 98.5 209.9 98C209.6 97.5 208.2 97 206.1 97.6C204 98.2 200.2 100 197.5 101.8C194.8 103.6 191.4 106.4 190 108.5C188.6 110.6 188.2 112.6 189 114.2C189.8 115.8 191.5 117.3 194.7 118C197.9 118.7 205.8 118.4 208 118.5" stroke="#ffffff" stroke-width="4"/>
<path d="M215.1 99.9L216.2 101L217.8 102.7L219.6 104.6L221.6 106.7L223.6 108.8L225.7 110.9L227.9 112.9L230.4 115.1L232.9 117.3L235.3 119.4L237.4 121.1L238.9 122.3L240.7 120.3L239.4 118.9L237.4 117L235.2 114.9L232.7 112.5L230.4 110.2L228.3 108.1L226.4 106.2L224.4 104L222.4 101.9L220.7 100L219.2 98.3L218.1 97.1Z" style="fill:#ffffff;stroke:none"/>
<circle cx="216.6" cy="98.5" r="2" fill="#ffffff" stroke="none"/>
<circle cx="239.8" cy="121.3" r="1.4" fill="#ffffff" stroke="none"/>
<path d="M233.2 102.3C231.5 103.3 226.4 106.6 223.2 108.5C220 110.4 215.7 112.8 214.2 113.7" stroke="#ffffff" stroke-width="4"/>
<path d="M560.3 96.7C559.4 99.7 556.6 108.5 554.9 114.5C553.3 120.6 551.2 130.1 550.5 133.2" stroke="#ffffff" stroke-width="4.6"/>
<path d="M560.9 99.3L561.8 97.5L563.1 94.9L564.6 91.9L566.2 88.9L567.8 86.2L569.3 84.3L570.7 82.9L572.2 81.9L573.7 81.1L575.2 80.6L576.7 80.3L578 80.3L579.4 80.5L580.8 81L582.2 81.8L583.5 82.7L584.7 83.9L585.8 85.2L586.6 86.7L587.5 88.4L588.1 90.4L588.6 92.4L588.8 94.4L588.6 96.5L588.2 98.7L587.4 101.3L586.3 103.9L584.9 106.6L583.4 109.1L581.7 111.5L579.9 113.7L577.9 115.8L575.6 117.8L573.2 119.8L570.7 121.6L568.1 123.4L565.1 125.2L561.7 127L558.1 128.7L554.7 130.2L551.8 131.5L549.8 132.5L551.2 135.8L553.3 134.9L556.3 133.7L559.8 132.3L563.5 130.6L567.1 128.9L570.3 127.1L573.1 125.2L575.9 123.2L578.4 121.1L580.9 118.9L583.1 116.5L585.2 114.1L587 111.4L588.6 108.5L590 105.6L591.2 102.6L592 99.7L592.5 97L592.5 94.3L592.2 91.7L591.5 89.3L590.5 87.1L589.4 85.1L588.3 83.3L586.9 81.8L585.4 80.4L583.7 79.3L581.9 78.4L580 77.8L578.2 77.6L576.4 77.6L574.5 78L572.7 78.6L570.8 79.6L569 80.8L567.3 82.5L565.5 84.6L563.7 87.4L561.9 90.5L560.3 93.5L558.9 96L557.9 97.7Z" style="fill:#ffffff;stroke:none"/>
<circle cx="559.4" cy="98.5" r="1.7" fill="#ffffff" stroke="none"/>
<circle cx="550.5" cy="134.1" r="1.8" fill="#ffffff" stroke="none"/>
<path d="M585.2 108.3C586.4 107.9 590.6 105.3 592.4 105.6C594.1 105.9 596.2 107.4 595.9 110.1C595.6 112.8 592.2 118.3 590.6 121.7C588.9 125.1 585.8 129.2 586.1 130.6C586.4 131.9 589.5 131.2 592.4 129.7C595.2 128.2 600.2 124 603 121.7C605.9 119.3 608.2 116.5 609.3 115.4" stroke="#ffffff" stroke-width="4.3"/>
<path d="M624.4 78C623.7 82.3 621 96 620 103.8C618.9 111.7 618.5 121.7 618.2 125.2" stroke="#ffffff" stroke-width="4.3"/>
<path d="M610.2 108.3C612.2 107.9 619.4 106.8 622.6 106.2C625.9 105.6 628.6 105 629.8 104.7" stroke="#ffffff" stroke-width="4.3"/>
<path d="M631.5 108.3C632.7 107.9 636.9 105.6 638.7 105.6C640.5 105.6 642.8 106.2 642.2 108.3C641.6 110.4 637 115.6 635.1 118.1C633.2 120.6 630.4 122.1 630.7 123.4C631 124.8 633.9 125.7 636.9 126.1C639.9 126.6 646.5 126.1 648.5 126.1" stroke="#ffffff" stroke-width="4.3"/>
<path d="M526.2 154.7C526.1 156.6 525.9 162.5 525.7 166.2C525.6 170 525.5 175.3 525.4 177.1" stroke="#ffffff" stroke-width="4.3"/>
<path d="M525.4 156.2C526.6 154.7 530.3 149 532.4 146.9C534.4 144.9 536.4 143.6 537.8 143.9C539.2 144.1 540.9 146.4 540.9 148.5C540.9 150.6 539.6 154 537.8 156.2C536 158.4 532.8 160.2 530.1 161.6C527.4 163 523 164.2 521.6 164.7" stroke="#ffffff" stroke-width="4.3"/>
<circle cx="547.1" cy="157" r="1.9" fill="#ffffff" stroke="none"/>
<path d="M544.7 163.2L543.7 177.1" stroke="#ffffff" stroke-width="4.3"/>
<path d="M554.8 173.2C555 171.8 555.4 167.4 556.3 164.7C557.2 162 558.8 157 560.2 157C561.6 157 563.4 161.5 564.8 164.7C566.2 167.9 568 174.4 568.7 176.3" stroke="#ffffff" stroke-width="4.3"/>
<path d="M578.7 143.1C578.6 145.7 578.2 153.1 577.9 158.5C577.7 163.9 577.3 172.7 577.2 175.5" stroke="#ffffff" stroke-width="4.3"/>
<path d="M591.8 160.1C589.9 161.6 581.8 167.1 580.2 169.3C578.7 171.5 581.1 172.2 582.6 173.2C584 174.2 587.7 175.1 588.7 175.5" stroke="#ffffff" stroke-width="4.3"/>
<path d="M635.7 148.6C634.2 148.4 629.6 147.1 627.1 147.6C624.6 148.1 620.5 149.7 620.5 151.4C620.5 153.1 624.1 155.8 627.1 158.1C630.1 160.3 636.1 162.3 638.5 164.7C640.9 167.1 642.6 170.4 641.4 172.3C640.1 174.2 635.5 176.1 630.9 176.1C626.3 176.1 616.7 172.9 613.8 172.3" stroke="#ffffff" stroke-width="4.3"/>
<path d="M653.7 158.1C652.4 157.9 648.2 156.3 646.1 157.1C644 157.9 641.2 161.1 641.4 162.8C641.5 164.5 644.8 167.9 647.1 167.6C649.3 167.2 653.4 162 654.7 160.9" stroke="#ffffff" stroke-width="4.3"/>
<path d="M655.6 157.1C655.8 159.3 656.7 166.3 656.6 170.4C656.4 174.5 655 179.9 654.7 181.8" stroke="#ffffff" stroke-width="4.3"/>
<path d="M667 155.2C666.8 156.5 665.3 161.1 666.1 162.8C666.8 164.5 669.5 166.3 671.8 165.7C674 165 677.8 160.9 679.4 159C680.9 157.1 680.9 155 681.3 154.3" stroke="#ffffff" stroke-width="4.3"/>
<path d="M688.9 155.2C690.3 154.9 693.5 153.8 697.4 153.3C701.4 152.8 711 151.1 712.6 152.4C714.2 153.6 708.5 158.2 706.9 160.9C705.3 163.6 702.8 167.2 703.1 168.5C703.4 169.8 705.3 170.1 708.8 168.5C712.3 166.9 718.3 161.7 724 159C729.7 156.3 737 154.1 743 152.4C749 150.6 757.3 149.2 760.1 148.6" stroke="#ffffff" stroke-width="4.3"/>
<path d="M741.1 155.2C741.4 156.5 741.7 160.4 743 162.8C744.3 165.2 746.7 167.9 748.7 169.5C750.8 171 754.3 171.8 755.4 172.3" stroke="#ffffff" stroke-width="4.3"/>
<path d="M558.3 202.4C574.4 201 625.6 195.7 655 194C684.4 192.3 721.3 192.6 734.6 192.3" stroke="#ff0b7a" stroke-width="7.4"/>
<path d="M565 197.6C570.8 196.9 589.2 194.7 600 193.5C610.8 192.3 625 190.8 630 190.2" stroke="#ff0b7a" stroke-width="6.5"/>
<path d="M559.9 196.9L559.8 201.6L559.6 208L559.4 215.6L559.2 223.9L559.1 232.2L558.9 240L558.8 247.4L558.7 255L558.7 262.6L558.6 270.1L558.5 277.6L558.4 284.9L558.3 292.6L558.1 300.7L558 308.7L557.8 316.1L557.7 322.4L557.6 326.9L567.6 327.1L567.7 322.6L567.8 316.3L568 308.9L568.1 300.9L568.3 292.7L568.4 285.1L568.4 277.7L568.4 270.2L568.4 262.6L568.3 255L568.3 247.4L568.3 240L568.3 232.3L568.4 224L568.4 215.8L568.5 208.1L568.5 201.7L568.5 197.1Z" style="fill:#ff0b7a;stroke:none"/>
<circle cx="564.2" cy="197" r="4.3" fill="#ff0b7a" stroke="none"/>
<circle cx="562.6" cy="327" r="5" fill="#ff0b7a" stroke="none"/>
<path d="M560.9 337.8L565.4 337.4L571.7 336.9L579.1 336.3L586.8 335.7L594.2 335.1L600.4 334.6L605.4 334L609.8 333.5L613.8 333L617.6 332.6L621.4 332.1L625.3 331.7L629.4 331.3L633.4 331L637.4 330.7L641.5 330.4L645.7 330.1L650.1 329.8L654.7 329.6L659.4 329.4L664.2 329.2L669.2 329L674.5 328.9L680.1 328.7L686.5 328.5L693.8 328.3L701.4 328L708.6 327.8L714.7 327.7L719.1 327.5L718.9 321.3L714.6 321.3L708.5 321.4L701.3 321.5L693.7 321.5L686.4 321.6L679.9 321.7L674.3 321.8L669.1 321.8L664 321.9L659.2 322L654.5 322.1L649.9 322.2L645.4 322.3L641.1 322.4L637 322.5L632.9 322.6L628.8 322.7L624.7 322.9L620.6 323.1L616.8 323.3L613 323.5L609 323.7L604.6 323.9L599.6 324.2L593.4 324.6L586.1 325.1L578.3 325.6L570.9 326.1L564.6 326.5L560.1 326.8Z" style="fill:#ff0b7a;stroke:none"/>
<circle cx="560.5" cy="332.3" r="5.5" fill="#ff0b7a" stroke="none"/>
<circle cx="719" cy="324.4" r="3.1" fill="#ff0b7a" stroke="none"/>
<circle cx="558.6" cy="328" r="3.2" fill="#ff0b7a" stroke="none"/>
<circle cx="559.4" cy="335.2" r="3.4" fill="#ff0b7a" stroke="none"/>
<path d="M724.2 192.9L724 197.3L723.7 203.4L723.2 210.7L722.8 218.6L722.2 226.8L721.7 234.7L721.1 242.8L720.4 251.5L719.7 260.5L719 269.3L718.4 277.5L717.9 284.8L717.5 291.2L717.3 297.1L717.1 302.5L717 307.2L716.9 311L716.8 313.9L722.4 314.1L722.6 311.2L722.7 307.4L723 302.7L723.3 297.4L723.6 291.6L724.1 285.2L724.8 278.1L725.6 269.9L726.5 261.1L727.4 252.2L728.3 243.4L729.1 235.3L729.8 227.4L730.6 219.2L731.3 211.3L732 204L732.5 198L733 193.5Z" style="fill:#ff0b7a;stroke:none"/>
<circle cx="728.6" cy="193.2" r="4.4" fill="#ff0b7a" stroke="none"/>
<circle cx="719.6" cy="314" r="2.8" fill="#ff0b7a" stroke="none"/>
<path d="M557 277.3L610.5 205" stroke="#ff0b7a" stroke-width="8"/>
<path d="M562.5 327.5L668.5 185" stroke="#ff0b7a" stroke-width="8"/>
<path d="M613.2 328L708.5 199.5" stroke="#ff0b7a" stroke-width="7.8"/>
<path d="M662.2 327.5L729.5 234.4" stroke="#ff0b7a" stroke-width="7.4"/>
<path d="M562 276.5L594 326.5" stroke="#ff0b7a" stroke-width="7.6"/>
<path d="M572.6 213L631.2 320" stroke="#ff0b7a" stroke-width="8"/>
<path d="M609.3 204C615.9 216.3 638.4 257 649 277.7C659.6 298.4 668.8 319.6 672.8 328" stroke="#ff0b7a" stroke-width="7.6"/>
<path d="M632.5 202.6L702 328" stroke="#ff0b7a" stroke-width="8.4"/>
<path d="M663 196C668.3 204 685.6 228 695 244C704.4 260 715.5 284 719.6 292" stroke="#ff0b7a" stroke-width="7"/>
<path d="M682.6 196.3C686.8 201.2 700.5 216.2 708 226C715.5 235.8 724.4 250.3 727.7 255.2" stroke="#ff0b7a" stroke-width="7"/>
<circle cx="730.3" cy="234.3" r="3.8" fill="#ff0b7a" stroke="none"/>
<circle cx="727.8" cy="255.3" r="3.6" fill="#ff0b7a" stroke="none"/>
<circle cx="557" cy="277.3" r="4.4" fill="#ff0b7a" stroke="none"/>
<circle cx="608.5" cy="204" r="4.6" fill="#ff0b7a" stroke="none"/>
<circle cx="632.6" cy="202.2" r="4.6" fill="#ff0b7a" stroke="none"/>
<circle cx="629.8" cy="190" r="4" fill="#ff0b7a" stroke="none"/>
<circle cx="668.5" cy="185" r="4.2" fill="#ff0b7a" stroke="none"/>
<circle cx="709" cy="198.8" r="3.8" fill="#ff0b7a" stroke="none"/>
<circle cx="636.9" cy="378.2" r="5" fill="#3b02ff" stroke="none"/>
<path d="M632.3 378L630.5 383.4L628.1 390.9L625.2 399.7L622.2 409.1L619.1 418.1L616.2 426.1L613.6 433.1L611 439.8L608.4 446.2L605.8 452.4L603 458.6L600.1 464.6L597.1 470.8L593.8 477L590.4 483.2L587.1 489.1L583.8 494.7L580.9 499.9L578.4 504.5L576.1 508.6L573.9 512.4L571.9 515.9L570 519.2L568.1 522.4L566.1 525.5L564.4 528.3L562.8 530.9L561.2 533.2L559.7 535.4L558.1 537.3L556.4 539.1L554.4 540.9L552.3 542.5L550.4 544L548.7 545.3L547.4 546.2L551.4 551.5L552.6 550.5L554.3 549.3L556.4 547.7L558.6 545.9L560.9 543.9L563.1 541.8L565 539.5L566.8 537.2L568.5 534.7L570.3 532.1L572.1 529.3L574.1 526.4L576.3 523.4L578.6 520.2L581 516.9L583.6 513.2L586.3 509.2L589.2 504.8L592.2 499.7L595.6 494.1L599.1 488.2L602.7 481.9L606.2 475.6L609.5 469.2L612.5 462.9L615.3 456.6L618 450.2L620.7 443.6L623.3 436.8L626 429.6L628.8 421.4L631.7 412.1L634.6 402.7L637.3 393.7L639.5 386.2L641.1 380.8Z" style="fill:#3b02ff;stroke:none"/>
<circle cx="636.7" cy="379.4" r="4.6" fill="#3b02ff" stroke="none"/>
<circle cx="549.4" cy="548.8" r="3.3" fill="#3b02ff" stroke="none"/>
<path d="M633.2 380.6L634.6 386.3L636.6 394.1L638.9 403.4L641.4 413.3L644 423L646.4 431.6L648.9 439.3L651.6 446.7L654.2 453.8L656.8 460.7L659.3 467.2L661.7 473.3L664.1 479.1L666.4 484.6L668.6 489.8L670.7 494.6L672.8 499.1L674.9 503.2L676.8 507.1L678.7 510.7L680.6 513.9L682.3 516.6L683.8 518.9L684.8 520.6L687.7 518.9L686.8 517.1L685.6 514.8L684.1 512L682.4 508.7L680.7 505.2L679.1 501.4L677.5 497.2L675.9 492.6L674.3 487.6L672.6 482.3L670.8 476.7L668.9 470.8L666.9 464.5L664.9 457.9L662.7 450.9L660.6 443.7L658.4 436.3L656.3 428.7L653.9 420.3L651.2 410.7L648.6 400.9L646.1 391.7L644 383.8L642.5 378.2Z" style="fill:#3b02ff;stroke:none"/>
<circle cx="637.9" cy="379.4" r="4.8" fill="#3b02ff" stroke="none"/>
<circle cx="686.3" cy="519.8" r="1.6" fill="#3b02ff" stroke="none"/>
<path d="M547.6 554.9L554.1 553.5L563.1 551.5L573.7 549.1L585 546.7L595.9 544.4L605.6 542.5L613.8 540.9L621.4 539.5L628.7 538.2L636 537L643.6 535.9L651.7 534.8L661.2 533.6L672 532.5L683 531.4L693.4 530.5L702.3 529.6L708.6 529L708.1 523.6L701.8 524L693 524.6L682.5 525.4L671.4 526.2L660.6 527.1L651 528L642.7 528.9L635 529.8L627.6 530.7L620.2 531.8L612.4 532.9L604.1 534.2L594.3 535.9L583.3 538L571.9 540.1L561.2 542.2L552.1 543.9L545.6 545.1Z" style="fill:#3b02ff;stroke:none"/>
<circle cx="546.6" cy="550" r="5" fill="#3b02ff" stroke="none"/>
<circle cx="708.4" cy="526.3" r="2.7" fill="#3b02ff" stroke="none"/>
<path d="M624.6 433.7C627.9 437.7 637 449.2 644.4 458.1C651.7 467 663.9 481.2 668.8 487.2C673.7 493.2 673.1 493 673.9 494.2" stroke="#3b02ff" stroke-width="9"/>
<path d="M607.1 467.4C610.6 472.4 621.5 488 628.1 497.7C634.7 507.3 643.6 520.9 646.7 525.6" stroke="#3b02ff" stroke-width="11"/>
<path d="M583.9 502.3L602.5 529.1" stroke="#3b02ff" stroke-width="12"/>
<path d="M659.1 437.7L656.8 440.5L653.4 444.4L649.5 449.1L645.2 454.3L640.9 459.8L636.8 465.3L632.7 471.1L628.5 477.4L624.3 483.9L620.1 490.5L616.2 496.7L612.6 502.3L609.1 507.5L605.7 512.8L602.5 517.7L599.6 522.1L597.1 525.7L595.2 528.4L605.1 534.4L606.6 531.5L608.7 527.6L611.2 523L614.1 517.9L617.2 512.5L620.3 507L623.7 501.2L627.3 494.8L631.2 488.2L635.1 481.5L639 475.2L642.7 469.5L646.6 464.1L650.8 458.7L655 453.6L658.8 449L662.1 445.1L664.5 442.2Z" style="fill:#3b02ff;stroke:none"/>
<circle cx="661.8" cy="439.9" r="3.5" fill="#3b02ff" stroke="none"/>
<circle cx="600.2" cy="531.4" r="5.8" fill="#3b02ff" stroke="none"/>
<path d="M675.3 476.1L673.4 478.3L670.8 481.5L667.7 485.2L664.3 489.3L660.9 493.5L657.6 497.7L654.2 502L650.6 506.9L646.8 511.9L643.4 516.6L640.4 520.6L638.3 523.4L645.8 528.7L647.7 525.7L650.5 521.6L653.7 516.8L657.2 511.7L660.6 506.7L663.7 502.3L666.8 498.2L670.1 494L673.4 489.9L676.5 486.1L679 482.9L680.9 480.6Z" style="fill:#3b02ff;stroke:none"/>
<circle cx="678.1" cy="478.3" r="3.6" fill="#3b02ff" stroke="none"/>
<circle cx="642.1" cy="526" r="4.6" fill="#3b02ff" stroke="none"/>
<circle cx="647.2" cy="589.5" r="5" fill="#ff0b7a" stroke="none"/>
<path d="M642.6 589.3L640.8 594.7L638.4 602.2L635.5 611L632.5 620.4L629.4 629.4L626.5 637.4L623.9 644.4L621.3 651.1L618.7 657.5L616.1 663.7L613.3 669.9L610.4 675.9L607.4 682.1L604.1 688.3L600.7 694.5L597.4 700.4L594.1 706L591.2 711.2L588.7 715.8L586.4 719.9L584.2 723.7L582.2 727.2L580.3 730.5L578.4 733.7L576.4 736.8L574.7 739.6L573.1 742.2L571.5 744.5L570 746.7L568.4 748.6L566.7 750.4L564.7 752.2L562.6 753.8L560.7 755.3L559 756.6L557.7 757.5L561.7 762.8L562.9 761.8L564.6 760.6L566.7 759L568.9 757.2L571.2 755.2L573.4 753.1L575.3 750.8L577.1 748.5L578.8 746L580.6 743.4L582.4 740.6L584.4 737.7L586.6 734.7L588.9 731.5L591.3 728.2L593.9 724.5L596.6 720.5L599.5 716.1L602.5 711L605.9 705.4L609.4 699.5L613 693.2L616.5 686.9L619.8 680.5L622.8 674.2L625.6 667.9L628.3 661.5L631 654.9L633.6 648.1L636.3 640.9L639.1 632.7L642 623.4L644.9 614L647.6 605L649.8 597.5L651.4 592.1Z" style="fill:#ff0b7a;stroke:none"/>
<circle cx="647" cy="590.7" r="4.6" fill="#ff0b7a" stroke="none"/>
<circle cx="559.7" cy="760.1" r="3.3" fill="#ff0b7a" stroke="none"/>
<path d="M643.5 591.9L644.9 597.6L646.9 605.4L649.2 614.7L651.7 624.6L654.3 634.3L656.7 642.9L659.2 650.6L661.9 658L664.5 665.1L667.1 672L669.6 678.5L672 684.6L674.4 690.4L676.7 695.9L678.9 701.1L681 705.9L683.1 710.4L685.2 714.5L687.1 718.4L689 722L690.9 725.2L692.6 727.9L694.1 730.2L695.1 731.9L698 730.2L697.1 728.4L695.9 726.1L694.4 723.3L692.7 720L691 716.5L689.4 712.7L687.8 708.5L686.2 703.9L684.6 698.9L682.9 693.6L681.1 688L679.2 682.1L677.2 675.8L675.2 669.2L673 662.2L670.9 655L668.7 647.6L666.6 640L664.2 631.6L661.5 622L658.9 612.2L656.4 603L654.3 595.1L652.8 589.5Z" style="fill:#ff0b7a;stroke:none"/>
<circle cx="648.2" cy="590.7" r="4.8" fill="#ff0b7a" stroke="none"/>
<circle cx="696.6" cy="731.1" r="1.6" fill="#ff0b7a" stroke="none"/>
<path d="M557.9 766.2L564.4 764.8L573.4 762.8L584 760.4L595.3 758L606.2 755.7L615.9 753.8L624.1 752.2L631.7 750.8L639 749.5L646.3 748.3L653.9 747.2L662 746.1L671.5 744.9L682.3 743.8L693.3 742.7L703.7 741.8L712.6 740.9L718.9 740.3L718.4 734.9L712.1 735.3L703.3 735.9L692.8 736.7L681.7 737.5L670.9 738.4L661.3 739.3L653 740.2L645.3 741.1L637.9 742L630.5 743.1L622.7 744.2L614.4 745.5L604.6 747.2L593.6 749.3L582.2 751.4L571.5 753.5L562.4 755.2L555.9 756.4Z" style="fill:#ff0b7a;stroke:none"/>
<circle cx="556.9" cy="761.3" r="5" fill="#ff0b7a" stroke="none"/>
<circle cx="718.7" cy="737.6" r="2.7" fill="#ff0b7a" stroke="none"/>
<path d="M634.9 645C638.2 649 647.3 660.5 654.7 669.4C662 678.3 674.2 692.5 679.1 698.5C684 704.5 683.4 704.3 684.2 705.5" stroke="#ff0b7a" stroke-width="9"/>
<path d="M617.4 678.7C620.9 683.7 631.8 699.3 638.4 709C645 718.6 653.9 732.2 657 736.9" stroke="#ff0b7a" stroke-width="11"/>
<path d="M594.2 713.6L612.8 740.4" stroke="#ff0b7a" stroke-width="12"/>
<path d="M669.4 649L667.1 651.8L663.7 655.7L659.8 660.4L655.5 665.6L651.2 671.1L647.1 676.6L643 682.4L638.8 688.7L634.6 695.2L630.4 701.8L626.5 708L622.9 713.6L619.4 718.8L616 724.1L612.8 729L609.9 733.4L607.4 737L605.5 739.7L615.4 745.7L616.9 742.8L619 738.9L621.5 734.3L624.4 729.2L627.5 723.8L630.6 718.3L634 712.5L637.6 706.1L641.5 699.5L645.4 692.8L649.3 686.5L653 680.8L656.9 675.4L661.1 670L665.3 664.9L669.1 660.3L672.4 656.4L674.8 653.5Z" style="fill:#ff0b7a;stroke:none"/>
<circle cx="672.1" cy="651.2" r="3.5" fill="#ff0b7a" stroke="none"/>
<circle cx="610.5" cy="742.7" r="5.8" fill="#ff0b7a" stroke="none"/>
<path d="M685.6 687.4L683.7 689.6L681.1 692.8L678 696.5L674.6 700.6L671.2 704.8L667.9 709L664.5 713.3L660.9 718.2L657.1 723.2L653.7 727.9L650.7 731.9L648.6 734.7L656.1 740L658 737L660.8 732.9L664 728.1L667.5 723L670.9 718L674 713.6L677.1 709.5L680.4 705.3L683.7 701.2L686.8 697.4L689.3 694.2L691.2 691.9Z" style="fill:#ff0b7a;stroke:none"/>
<circle cx="688.4" cy="689.6" r="3.6" fill="#ff0b7a" stroke="none"/>
<circle cx="652.4" cy="737.3" r="4.6" fill="#ff0b7a" stroke="none"/>
<path d="M535.1 360.1C534.3 361.9 531.9 367.4 530.4 370.9C529 374.4 527.2 379.2 526.6 380.9" stroke="#ffffff" stroke-width="4.3"/>
<path d="M534.3 360.8C535.6 359.6 539.7 354.7 542 353.1C544.3 351.6 546.8 351.1 548.2 351.6C549.6 352.1 550.9 354.3 550.5 356.2C550.1 358.1 547.9 361 545.9 363.2C543.8 365.3 537.9 367.8 538.2 369.3C538.4 370.9 545.5 370.9 547.4 372.4C549.4 374 550.8 376.7 549.7 378.6C548.7 380.5 544.5 383.2 541.2 384C538 384.8 533.5 384 530.4 383.2C527.4 382.5 524 380 522.7 379.4" stroke="#ffffff" stroke-width="4.3"/>
<path d="M564.4 350C563.5 352.7 560.4 361.1 559 366.2C557.6 371.4 556.4 378.5 555.9 380.9" stroke="#ffffff" stroke-width="4.3"/>
<path d="M565.2 369.3C565.2 370.7 564.4 375.8 565.2 377.8C565.9 379.9 567.9 382.1 569.8 381.7C571.7 381.3 575.1 377.4 576.8 375.5C578.4 373.6 579.3 371 579.8 370.1" stroke="#ffffff" stroke-width="4.3"/>
<path d="M582.9 376.3C584.7 375.5 590.7 373.3 593.7 371.7C596.8 370 600.7 367.7 601.5 366.2C602.2 364.8 600 363.3 598.4 363.2C596.7 363 593.2 363.8 591.4 365.5C589.6 367.1 587.4 370.9 587.6 373.2C587.7 375.5 590 378 592.2 379.4C594.4 380.8 599.3 381.3 600.7 381.7" stroke="#ffffff" stroke-width="4.3"/>
<path d="M627.9 351.4C629.9 351.3 635.9 351 640.2 350.8C644.5 350.7 651.3 350.5 653.5 350.5" stroke="#ffffff" stroke-width="4.3"/>
<path d="M642.1 347.6C641.9 350.1 641.2 357.6 641.2 362.8C641.1 368 641.6 376.3 641.7 379" stroke="#ffffff" stroke-width="4.3"/>
<path d="M647.8 360.9L648.8 371.4" stroke="#ffffff" stroke-width="4.3"/>
<path d="M648.8 365.1C649.5 364.1 651.6 360.2 653.5 359C655.4 357.8 659 358.2 660.2 358.1" stroke="#ffffff" stroke-width="4.3"/>
<circle cx="665.3" cy="358.1" r="1.9" fill="#ffffff" stroke="none"/>
<path d="M664 364.7L663 377.1" stroke="#ffffff" stroke-width="4.3"/>
<path d="M675.4 362.8C676.8 362.2 681.7 359.2 683.9 359C686.1 358.8 688.3 360 688.7 361.9C689 363.8 686.8 367.6 685.8 370.4C684.9 373.3 682.5 377.4 683 379C683.4 380.5 685.6 381.6 688.7 379.9C691.7 378.2 698.3 371.8 701 368.5C703.7 365.2 703.9 359.5 704.8 360C705.8 360.4 706.1 367.9 706.7 371.4C707.3 374.8 708.3 379.3 708.6 380.9" stroke="#ffffff" stroke-width="4.3"/>
<path d="M723.8 364.7C722.5 364.9 718 364.2 716.2 365.7C714.5 367.1 712.9 371.4 713.4 373.3C713.8 375.2 716.8 377.8 719.1 377.1C721.3 376.3 725.4 369.9 726.7 368.5" stroke="#ffffff" stroke-width="4.3"/>
<path d="M728.6 363.8C728.2 366.4 728.1 375.2 726.7 379.9C725.2 384.7 722.7 389.2 720 392.3C717.3 395.3 713.7 397.3 710.5 398C707.3 398.6 702.6 396.4 701 396.1" stroke="#ffffff" stroke-width="4.3"/>
<path d="M744.7 352.4C744.1 355 741.7 363.8 740.9 368.5C740.1 373.3 740.1 378.8 740 380.9" stroke="#ffffff" stroke-width="4.3"/>
<path d="M741.9 380.9C743.9 380.1 750.4 377.8 754.2 376.1C758 374.4 763.4 372.1 764.7 370.4C765.9 368.7 763.7 366 761.8 365.7C759.9 365.3 755.8 366.6 753.3 368.5C750.7 370.4 747.7 374.2 746.6 377.1C745.5 379.9 745.7 383.4 746.6 385.6C747.6 387.8 751.4 389.6 752.3 390.4" stroke="#ffffff" stroke-width="4.3"/>
<path d="M550.4 573.1C550.2 574.5 549.6 578.8 549.2 581.6C548.8 584.4 548.3 588.7 548.1 590.1" stroke="#ffffff" stroke-width="4.3"/>
<path d="M549.7 575.1C550.8 573.6 554.3 568 556.6 566.2C558.9 564.4 562 563.8 563.6 564.3C565.1 564.8 566.1 567.3 565.9 569.3C565.6 571.2 564.1 574.2 562 576.2C560 578.3 554.9 580.7 553.5 581.6" stroke="#ffffff" stroke-width="4.3"/>
<circle cx="572.1" cy="573.9" r="1.9" fill="#ffffff" stroke="none"/>
<path d="M568.2 583.2L564.3 593.2" stroke="#ffffff" stroke-width="4.3"/>
<path d="M576.7 587C577.3 585.6 579.4 578.9 580.5 578.5C581.7 578.1 583 582 583.6 584.7C584.3 587.4 584.3 593.1 584.4 594.7" stroke="#ffffff" stroke-width="4.3"/>
<path d="M601.4 566.9C601.3 568.6 601.2 573.6 601.1 577C601 580.4 600.7 585.7 600.6 587.5" stroke="#ffffff" stroke-width="4.3"/>
<path d="M609.1 584.7C607 585.5 599.7 587.7 596.8 589.3C593.8 591 591.5 593.2 591.4 594.7C591.2 596.3 593.8 598 596 598.6C598.2 599.2 603.1 598.6 604.5 598.6" stroke="#ffffff" stroke-width="4.3"/>
<path d="M622.2 574.7C624.7 574.3 632.1 573.1 636.9 572.4C641.7 571.6 648.5 570.4 650.8 570" stroke="#ffffff" stroke-width="4.3"/>
<path d="M636.9 573.1C636.6 575.1 635.9 580.7 635.4 584.7C634.8 588.7 634.1 595 633.8 597.1" stroke="#ffffff" stroke-width="4.3"/>
<path d="M648.3 594.1C648.1 592.8 646.7 588.8 647 586.6C647.3 584.4 648.4 582.2 650 580.8C651.6 579.4 654.5 578.7 656.6 578.3C658.7 577.9 661.5 578.6 662.4 578.6" stroke="#ffffff" stroke-width="4.3"/>
<circle cx="679.1" cy="573.3" r="1.9" fill="#ffffff" stroke="none"/>
<path d="M672.4 586.6L669.1 597.4" stroke="#ffffff" stroke-width="4.3"/>
<path d="M685.7 583.3C687.3 582.9 692.9 580.5 694.9 580.8C696.8 581.1 698.2 582.9 697.4 584.9C696.5 587 691.5 591.3 689.9 593.3C688.2 595.2 686.6 595.9 687.4 596.6C688.2 597.3 691.7 598.1 694.9 597.4C698.1 596.7 703.5 594.2 706.5 592.4C709.6 590.6 711.8 586.6 713.2 586.6C714.5 586.6 714.7 590.5 714.8 592.4C715 594.4 714.1 597.3 714 598.2" stroke="#ffffff" stroke-width="4.3"/>
<path d="M730.6 586.6C729.4 586.3 725.2 584.2 723.1 584.9C721.1 585.6 718.2 589 718.2 590.8C718.2 592.6 721.1 595.6 723.1 595.7C725.2 595.9 729.4 592.3 730.6 591.6" stroke="#ffffff" stroke-width="4.3"/>
<path d="M731.5 584.9C731.3 587.2 731.7 594.1 730.6 598.2C729.5 602.4 727.4 607 724.8 609.9C722.2 612.8 717.5 615 714.8 615.7C712.2 616.4 710 614.3 709 614" stroke="#ffffff" stroke-width="4.3"/>
<path d="M751.4 568.3C750.6 571.4 748.1 580.8 746.4 586.6C744.8 592.4 742.3 600.5 741.4 603.2" stroke="#ffffff" stroke-width="4.3"/>
<path d="M746.4 601.6C748.1 600.9 753.2 599.1 756.4 597.4C759.6 595.7 764.4 593.1 765.5 591.6C766.6 590.1 764.6 588.5 763 588.3C761.5 588 758.5 588.4 756.4 589.9C754.3 591.5 751.4 594.9 750.6 597.4C749.7 599.9 749.5 602.8 751.4 604.9C753.3 607 760.4 609.1 762.2 609.9" stroke="#ffffff" stroke-width="4.3"/>
</svg>
</body></html>
